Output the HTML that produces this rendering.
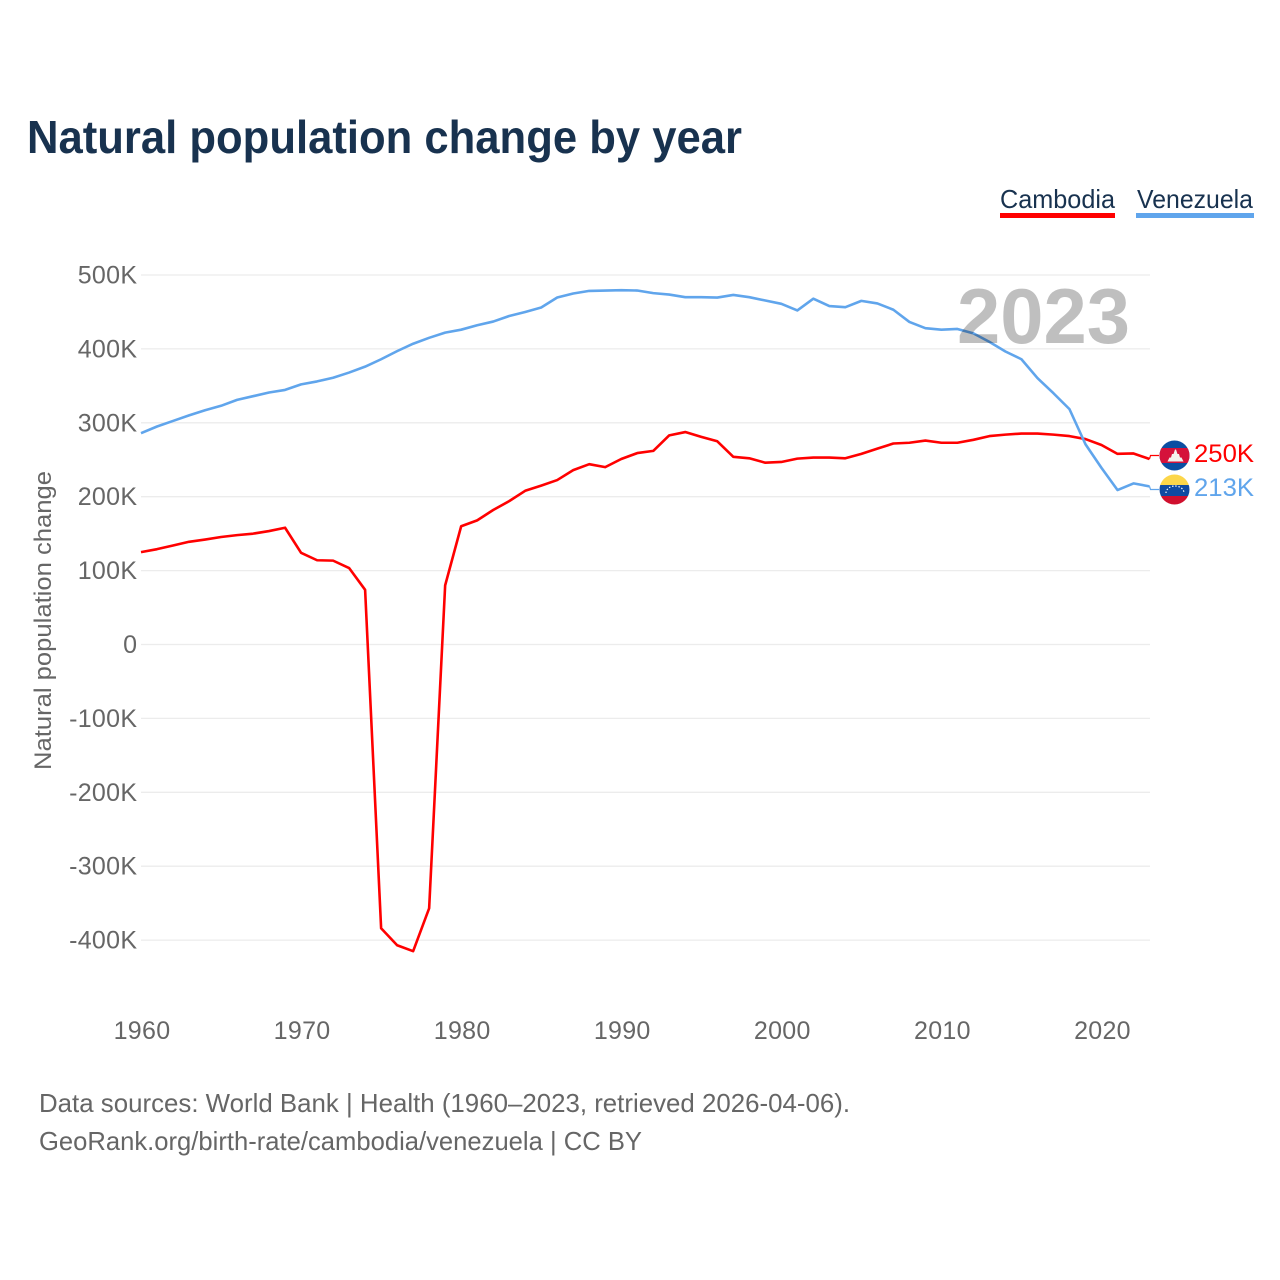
<!DOCTYPE html>
<html lang="en">
<head>
<meta charset="utf-8">
<title>Natural population change by year</title>
<style>
html,body{margin:0;padding:0;background:#fff;width:1280px;height:1280px;overflow:hidden}
svg{display:block;font-family:"Liberation Sans",sans-serif}
</style>
</head>
<body>
<svg id="chart" xmlns="http://www.w3.org/2000/svg" width="1280" height="1280" viewBox="0 0 1280 1280">
  <text x="27" y="153" font-size="46" font-weight="700" fill="#18324f" textLength="715" lengthAdjust="spacingAndGlyphs">Natural population change by year</text>

  <g>
    <g>
      <text x="1000" y="208" font-size="26" fill="#18324f" textLength="115" lengthAdjust="spacingAndGlyphs">Cambodia</text>
      <rect x="1000" y="213" width="115" height="5" fill="#ff0000"/>
    </g>
    <g>
      <text x="1137" y="208" font-size="26" fill="#18324f" textLength="116" lengthAdjust="spacingAndGlyphs">Venezuela</text>
      <rect x="1136" y="213" width="118" height="5" fill="#60a5ec"/>
    </g>
  </g>

  <g id="grid"></g>
  <g id="y-ticks"></g>
  <g id="x-ticks"></g>

  <text transform="translate(51,770) rotate(-90)" font-size="24" fill="#666666" textLength="299" lengthAdjust="spacingAndGlyphs">Natural population change</text>

  <g id="series"></g>

  <text x="957" y="343" font-size="78" font-weight="700" fill="#000000" fill-opacity="0.25" textLength="173" lengthAdjust="spacingAndGlyphs">2023</text>

  <defs>
    <clipPath id="clip-kh"><circle cx="1174.5" cy="455.5" r="15"/></clipPath>
    <clipPath id="clip-ve"><circle cx="1174.5" cy="489.5" r="15"/></clipPath>
  </defs>

  <g clip-path="url(#clip-kh)">
    <rect x="1159" y="440" width="31" height="31" fill="#0b4ea2"/>
    <rect x="1159" y="448" width="31" height="15" fill="#d5123b"/>
    <path d="M1167.500 461.500l2-4h1.500l1-3.500h1.500l1.500-4.500h1l1.500 4.500h1.500l1 3.500h1.500l2 4z" fill="#f4f1ee"/>
  </g>
  <g clip-path="url(#clip-ve)">
    <rect x="1159" y="474" width="31" height="11" fill="#fcd64a"/>
    <rect x="1159" y="485" width="31" height="11" fill="#0f4aa1"/>
    <rect x="1159" y="496" width="31" height="10" fill="#d0102e"/>
    <path d="M1166 493a9 7 0 0 1 18 0" fill="none" stroke="#ffffff" stroke-width="1.200" stroke-dasharray="1.400 1.800"/>
  </g>

  <text x="1194" y="462" font-size="25" fill="#ff0000" textLength="60" lengthAdjust="spacingAndGlyphs">250K</text>
  <text x="1194" y="496" font-size="25" fill="#60a5ec" textLength="60" lengthAdjust="spacingAndGlyphs">213K</text>

  <text x="39" y="1112" font-size="26" fill="#666666" textLength="811" lengthAdjust="spacingAndGlyphs">Data sources: World Bank | Health (1960–2023, retrieved 2026-04-06).</text>
  <text x="39" y="1150" font-size="26" fill="#666666" textLength="603" lengthAdjust="spacingAndGlyphs">GeoRank.org/birth-rate/cambodia/venezuela | CC BY</text>
</svg>
<script>
const firstYear = 1960;
const yTickValues = [500, 400, 300, 200, 100, 0, -100, -200, -300, -400];
const yTickLabels = ['500K', '400K', '300K', '200K', '100K', '0', '-100K', '-200K', '-300K', '-400K'];
const xTickYears = [1960, 1970, 1980, 1990, 2000, 2010, 2020];
const xTickLabels = ['1960', '1970', '1980', '1990', '2000', '2010', '2020'];
const cambodia = [125, 129, 134, 139, 142, 145.5, 148, 150, 153.5, 158,
  124, 114, 113.500, 103.500, 74, -384, -407, -415, -357, 80,
  160, 168, 182, 194, 208, 215, 222.500, 236, 244, 240,
  251, 259, 262, 283, 287.500, 281, 275, 254, 252, 246,
  247, 251.500, 253, 253, 252, 258, 265, 272, 273, 276,
  273, 273, 277, 282, 284, 285.500, 285.500, 284, 282, 278,
  270, 258, 258.500, 251];
const venezuela = [286, 295, 302.500, 310, 317, 323, 331, 336, 341, 344.500,
  352, 356, 361, 368, 376, 386, 397, 407, 415, 422,
  426, 432, 437, 444.500, 450, 456, 469.500, 475, 478.500, 479,
  479.500, 479, 475.500, 473.500, 470, 470, 469.500, 473, 470, 465.500,
  461, 452, 468, 458, 456.500, 465, 461.500, 453, 436.500, 428,
  426, 427, 421, 409.500, 396.500, 386, 360.500, 340, 318.500, 271,
  239, 209, 218, 214];

const SVG_NS = 'http://www.w3.org/2000/svg';
const xScale = function (year) { return 141 + (year - firstYear) * 16.008; };
const yScale = function (v) { return 644.5 - v * 0.739; };

const gridGroup = document.getElementById('grid');
const yTickGroup = document.getElementById('y-ticks');
yTickValues.forEach(function (v, i) {
  const line = document.createElementNS(SVG_NS, 'line');
  
  
  line.setAttribute('x1', 141);
  line.setAttribute('x2', 1150);
  line.setAttribute('y1', yScale(v));
  line.setAttribute('y2', yScale(v));
  line.setAttribute('stroke', '#ececec');
  line.setAttribute('stroke-width', 1.3);
  gridGroup.appendChild(line);

  const label = document.createElementNS(SVG_NS, 'text');
  
  
  label.setAttribute('x', 137.3);
  label.setAttribute('y', yScale(v) + 8.500);
  label.setAttribute('text-anchor', 'end');
  label.setAttribute('font-size', 25);
  label.setAttribute('letter-spacing', 0.3);
  label.setAttribute('fill', '#666666');
  label.textContent = yTickLabels[i];
  yTickGroup.appendChild(label);
});

const xTickGroup = document.getElementById('x-ticks');
xTickYears.forEach(function (year, i) {
  const label = document.createElementNS(SVG_NS, 'text');
  
  
  label.setAttribute('x', xScale(year) + 1);
  label.setAttribute('y', 1039);
  label.setAttribute('text-anchor', 'middle');
  label.setAttribute('font-size', 25);
  label.setAttribute('letter-spacing', 0.3);
  label.setAttribute('fill', '#666666');
  label.textContent = xTickLabels[i];
  xTickGroup.appendChild(label);
});

const seriesGroup = document.getElementById('series');
function linePath(values) {
  return values.map(function (v, i) {
    return (i ? 'L' : 'M') + xScale(firstYear + i).toFixed(2) + ' ' + yScale(v).toFixed(2);
  }).join('');
}
function connectorPath(values, targetY) {
  const last = values.length - 1;
  const x0 = xScale(firstYear + last);
  const y0 = yScale(values[last]);
  return 'M' + x0.toFixed(2) + ' ' + y0.toFixed(2) + 'L' + (x0 + 1) + ' ' + targetY + 'L1159 ' + targetY;
}

const cambodiaLine = document.createElementNS(SVG_NS, 'path');


cambodiaLine.setAttribute('d', linePath(cambodia));
cambodiaLine.setAttribute('fill', 'none');
cambodiaLine.setAttribute('stroke', '#ff0000');
cambodiaLine.setAttribute('stroke-width', 2.6);
cambodiaLine.setAttribute('stroke-linejoin', 'round');
seriesGroup.appendChild(cambodiaLine);

const venezuelaLine = document.createElementNS(SVG_NS, 'path');


venezuelaLine.setAttribute('d', linePath(venezuela));
venezuelaLine.setAttribute('fill', 'none');
venezuelaLine.setAttribute('stroke', '#60a5ec');
venezuelaLine.setAttribute('stroke-width', 2.6);
venezuelaLine.setAttribute('stroke-linejoin', 'round');
seriesGroup.appendChild(venezuelaLine);

const cambodiaConnector = document.createElementNS(SVG_NS, 'path');


cambodiaConnector.setAttribute('d', connectorPath(cambodia, 455.5));
cambodiaConnector.setAttribute('fill', 'none');
cambodiaConnector.setAttribute('stroke', '#ff0000');
cambodiaConnector.setAttribute('stroke-width', 1.2);
seriesGroup.appendChild(cambodiaConnector);

const venezuelaConnector = document.createElementNS(SVG_NS, 'path');


venezuelaConnector.setAttribute('d', connectorPath(venezuela, 489.5));
venezuelaConnector.setAttribute('fill', 'none');
venezuelaConnector.setAttribute('stroke', '#60a5ec');
venezuelaConnector.setAttribute('stroke-width', 1.2);
seriesGroup.appendChild(venezuelaConnector);
</script>
</body>
</html>
